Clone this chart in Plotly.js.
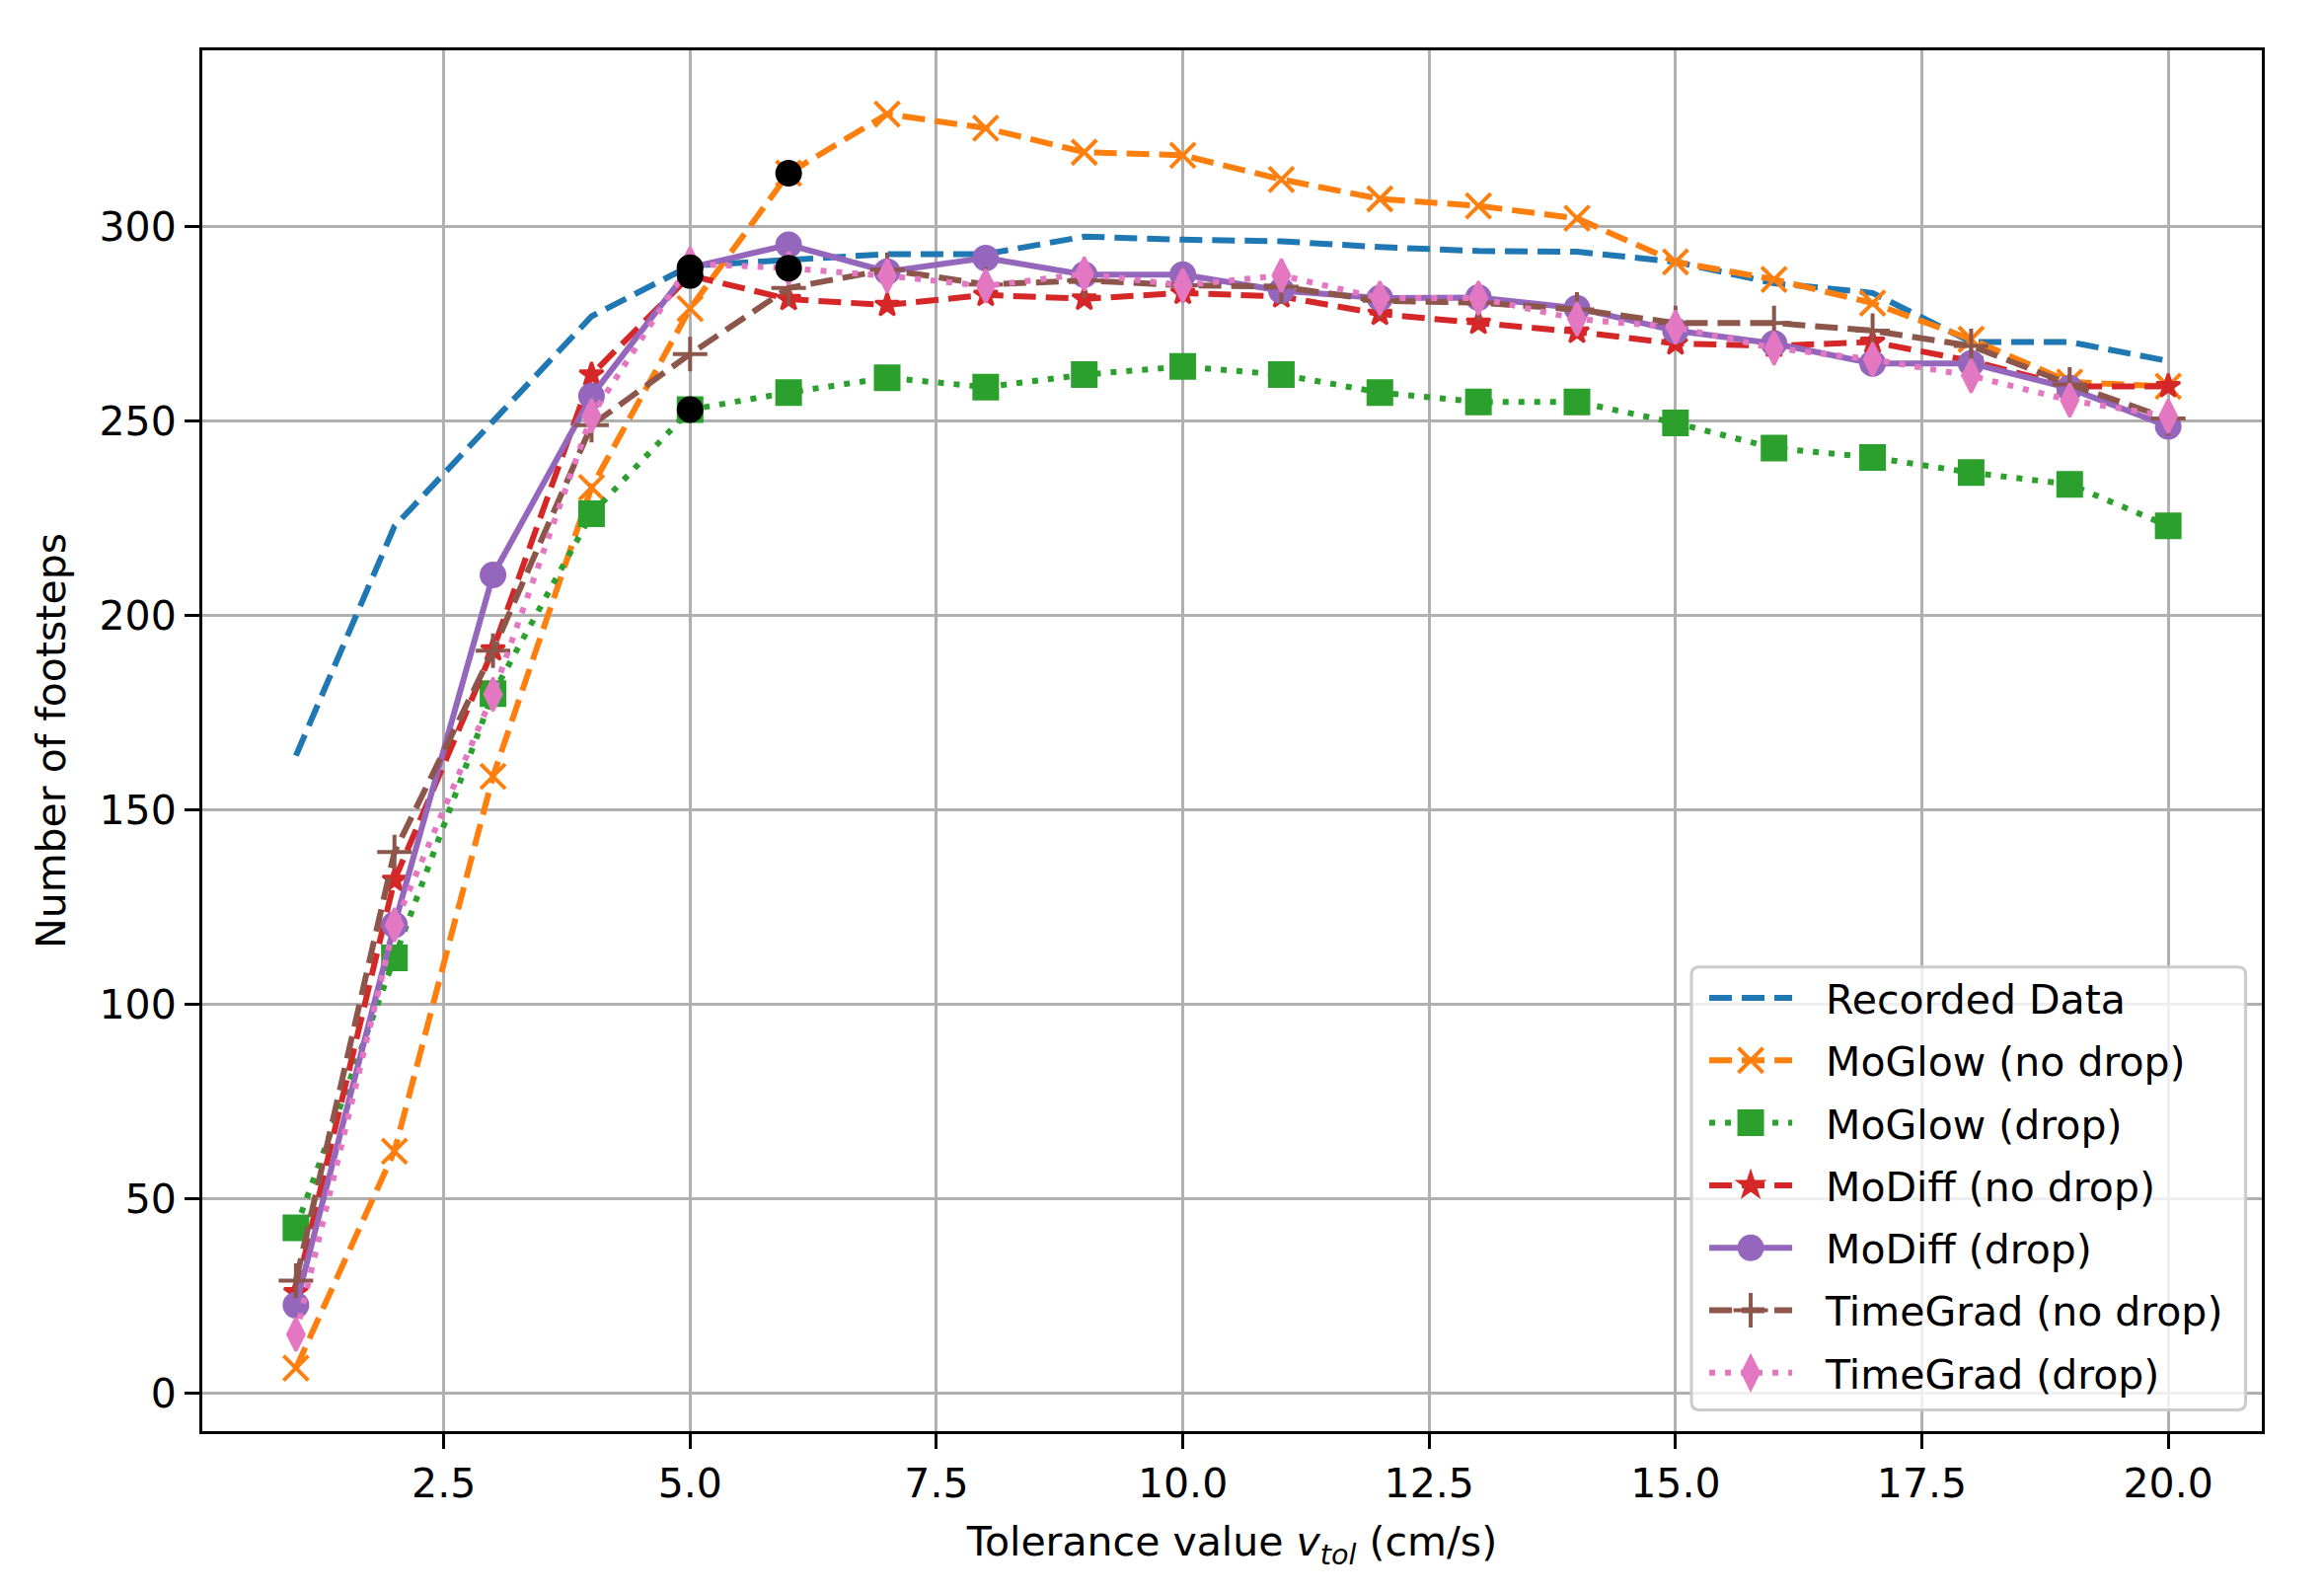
<!DOCTYPE html>
<html>
<head>
<meta charset="utf-8">
<script src="https://cdn.plot.ly/plotly-3.0.1.min.js"></script>
<style>
  html, body { margin: 0; padding: 0; background: #ffffff; }
  #footsteps_plot { width: 2355px; height: 1615px; }
</style>
</head>
<body>
<div id="footsteps_plot"></div>
<script>
// tolerance values (cm/s) on the x axis
const tolerance = [1, 2, 3, 4, 5, 6, 7, 8, 9, 10, 11, 12, 13, 14, 15, 16, 17, 18, 19, 20];

// number of footsteps per method
const recordedData   = [164, 223, 250, 277, 290, 291.5, 293, 293, 297.5, 296.7, 296.3, 294.8, 293.8, 293.6, 291, 285.5, 283, 270.4, 270.4, 265.5];
const moglowNoDrop   = [6.5, 62.3, 158.7, 233, 279, 313.8, 329, 325.4, 319.2, 318.4, 312.2, 307.2, 305.4, 302.2, 291, 286.5, 280.4, 271.1, 260.1, 259];
const moglowDrop     = [42.6, 112, 180, 226.2, 253, 257.4, 261.2, 258.8, 262, 264.1, 262, 257.4, 255, 255, 249.6, 243.1, 240.7, 236.8, 233.8, 223.1];
const modiffNoDrop   = [26, 132, 191.3, 262, 287.5, 281.4, 279.9, 282.5, 281.5, 283, 282.1, 277.6, 275.3, 273, 270, 269.4, 270.4, 265.5, 259, 259];
const modiffDrop     = [22.7, 120.5, 210.5, 256.5, 289.5, 295.4, 288.5, 292, 287.7, 287.7, 283.6, 281.7, 281.8, 279.1, 273.3, 270, 264.9, 264.9, 258.5, 248.7];
const timegradNoDrop = [29, 139.2, 191, 249, 267.3, 284.3, 289, 285.2, 286.2, 285, 284.6, 281, 280.5, 278.8, 275.3, 275.3, 273.3, 269.4, 259.5, 250.7];
const timegradDrop   = [15.2, 120.5, 179.8, 251.4, 290.5, 289.4, 287.4, 284.8, 287.9, 285, 287.5, 281.7, 281.7, 276.3, 274.2, 268.8, 265.9, 261.7, 255.4, 251.3];

// highlighted points (black dots)
const kneeX = [5, 5, 5, 6, 6];
const kneeY = [289.5, 287.5, 253, 313.8, 289.4];

const seriesNames = ["Recorded Data", "MoGlow (no drop)", "MoGlow (drop)", "MoDiff (no drop)",
                     "MoDiff (drop)", "TimeGrad (no drop)", "TimeGrad (drop)"];

// tick labels
const xTickVals = [2.5, 5, 7.5, 10, 12.5, 15, 17.5, 20];
const xTickText = ["2.5", "5.0", "7.5", "10.0", "12.5", "15.0", "17.5", "20.0"];
const yTickVals = [0, 50, 100, 150, 200, 250, 300];

const DASHED = "23px,10px";
const DOTTED = "6px,10px";
const LW = 6;
const LEGEND_MAX_MARKER = 16;   // plotly clamps legend markers to this

// marker size per symbol, roughly matplotlib markersize 6 at 300 dpi
const markerSize = {"x-thin": 25, "cross-thin": 25, "star": 18, "square": 24, "circle": 24, "diamond-tall": 24};

function lineTrace(name, y, color, dash, symbol) {
    var trace = {
        x: tolerance,
        y: y,
        name: name,
        type: "scatter",
        mode: symbol ? "lines+markers" : "lines",
        line: {color: color, width: LW, dash: dash},
        legendgroup: name
    };
    if (symbol) {
        var thin = symbol.indexOf("thin") >= 0;
        trace.marker = {
            symbol: symbol,
            size: markerSize[symbol],
            color: color,
            line: {color: color, width: thin ? 4 : 3}
        };
    }
    return trace;
}

var data = [
    lineTrace(seriesNames[0], recordedData, "#1f77b4", DASHED, null),
    lineTrace(seriesNames[1], moglowNoDrop, "#ff7f0e", DASHED, "x-thin"),
    lineTrace(seriesNames[2], moglowDrop, "#2ca02c", DOTTED, "square"),
    lineTrace(seriesNames[3], modiffNoDrop, "#d62728", DASHED, "star"),
    lineTrace(seriesNames[4], modiffDrop, "#9467bd", "solid", "circle"),
    lineTrace(seriesNames[5], timegradNoDrop, "#8c564b", DASHED, "cross-thin"),
    lineTrace(seriesNames[6], timegradDrop, "#e377c2", DOTTED, "diamond-tall"),
    {
        x: kneeX,
        y: kneeY,
        type: "scatter",
        mode: "markers",
        marker: {symbol: "circle", size: 27, color: "#000000"},
        showlegend: false,
        hoverinfo: "skip"
    }
];

const axisCommon = {
    showgrid: true,
    gridcolor: "#b0b0b0",
    gridwidth: 3,
    zeroline: false,
    showline: true,
    linecolor: "#000000",
    linewidth: 3,
    mirror: true,
    ticks: "outside",
    ticklen: 15,
    tickwidth: 3,
    tickcolor: "#000000",
    tickfont: {family: "DejaVu Sans", size: 41, color: "#000000"},
    automargin: false
};

// legend frame (rounded box, matplotlib style), paper coords
const frame = {x0: 0.72305, x1: 0.99214, y0: 0.0153, y1: 0.3361, rx: 0.0038, ry: 0.0057};
function roundedBox(f) {
    return "M" + (f.x0 + f.rx) + "," + f.y1 +
        " L" + (f.x1 - f.rx) + "," + f.y1 + " Q" + f.x1 + "," + f.y1 + " " + f.x1 + "," + (f.y1 - f.ry) +
        " L" + f.x1 + "," + (f.y0 + f.ry) + " Q" + f.x1 + "," + f.y0 + " " + (f.x1 - f.rx) + "," + f.y0 +
        " L" + (f.x0 + f.rx) + "," + f.y0 + " Q" + f.x0 + "," + f.y0 + " " + f.x0 + "," + (f.y0 + f.ry) +
        " L" + f.x0 + "," + (f.y1 - f.ry) + " Q" + f.x0 + "," + f.y1 + " " + (f.x0 + f.rx) + "," + f.y1 + " Z";
}

const layout = {
    width: 2355,
    height: 1615,
    margin: {l: 205, r: 63, t: 51, b: 165, pad: 0},
    paper_bgcolor: "#ffffff",
    plot_bgcolor: "#ffffff",
    font: {family: "DejaVu Sans", size: 41, color: "#000000"},
    xaxis: Object.assign({}, axisCommon, {
        range: [0.05, 20.95],
        tickmode: "array",
        tickvals: xTickVals,
        ticktext: xTickText,
        title: {text: "Tolerance value <i>v<sub>tol</sub></i> (cm/s)", font: {size: 41}, standoff: 22}
    }),
    yaxis: Object.assign({}, axisCommon, {
        range: [-9.7, 345.4],
        tickmode: "array",
        tickvals: yTickVals,
        title: {text: "Number of footsteps", font: {size: 41}, standoff: 22}
    }),
    shapes: [{
        type: "path",
        xref: "paper",
        yref: "paper",
        path: roundedBox(frame),
        fillcolor: "rgba(255,255,255,0.8)",
        line: {color: "#cccccc", width: 3},
        layer: "above"
    }],
    legend: {
        x: 0.7293,
        y: 0.3375,
        xanchor: "left",
        yanchor: "top",
        bgcolor: "rgba(0,0,0,0)",
        borderwidth: 0,
        font: {family: "DejaVu Sans", size: 41, color: "#000000"},
        itemwidth: 84,
        tracegroupgap: 7
    },
    showlegend: true
};

Plotly.newPlot("footsteps_plot", data, layout, {staticPlot: true, displayModeBar: false}).then(function (gd) {
    // legend is wider than plotly thinks after the text shift, drop its clipping
    gd.querySelectorAll(".legend [clip-path]").forEach(function (el) {
        el.removeAttribute("clip-path");
    });
    // plotly caps legend markers, scale them back to the size used in the plot
    gd.querySelectorAll(".legend .traces").forEach(function (item, i) {
        var trace = data[i];
        if (!trace || !trace.marker) return;
        var k = trace.marker.size / Math.min(trace.marker.size, LEGEND_MAX_MARKER);
        item.querySelectorAll(".scatterpts").forEach(function (p) {
            var t = p.getAttribute("transform") || "";
            p.setAttribute("transform", t + " scale(" + k + ")");
            p.setAttribute("vector-effect", "non-scaling-stroke");
        });
    });
    // wider gap between handle and label, as in matplotlib
    gd.querySelectorAll(".legend .legendtext").forEach(function (t) {
        t.setAttribute("x", parseFloat(t.getAttribute("x")) + 29);
    });
});
</script>
</body>
</html>
